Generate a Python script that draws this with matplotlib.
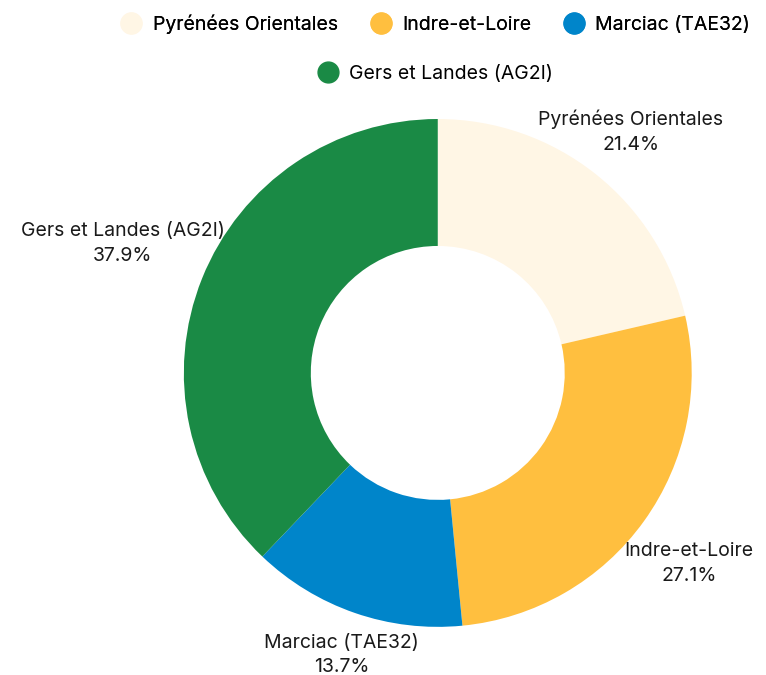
import matplotlib.pyplot as plt
from matplotlib.lines import Line2D

# Données
regions = ["Pyrénées Orientales", "Indre-et-Loire", "Marciac (TAE32)", "Gers et Landes (AG2I)"]
parts = [21.4, 27.1, 13.7, 37.9]
couleurs = ["#FFF6E5", "#FFBF3F", "#0085CA", "#1A8A45"]

# position des étiquettes (unités du rayon)
pos_etiquettes = [(0.76, 0.95), (0.99, -0.75), (-0.38, -1.11), (-1.24, 0.51)]

plt.rcParams['font.family'] = ['Inter', 'DejaVu Sans']

fig = plt.figure(figsize=(7.66, 6.75), dpi=100)
ax = fig.add_axes([0.240, 0.071, 0.663, 0.753])

etiquettes = [f"{r}\n{p}%" for r, p in zip(regions, parts)]
wedges, textes = ax.pie(parts, colors=couleurs, labels=etiquettes, startangle=90,
                        counterclock=False,
                        wedgeprops=dict(width=0.5, linewidth=0),
                        textprops=dict(fontsize=14, color="#1a1a1a"))
for t, p in zip(textes, pos_etiquettes):
    t.set_position(p)
    t.set_horizontalalignment("center")
    t.set_verticalalignment("center")
    t.set_linespacing(1.45)
    t.set_clip_on(False)
ax.set_aspect("equal")
ax.set_xlim(-1, 1)
ax.set_ylim(-1, 1)

# Légende en deux lignes
poignees = [Line2D([], [], marker="o", linestyle="", markersize=15,
                   markerfacecolor=c, markeredgecolor=c) for c in couleurs]
leg1 = fig.legend(poignees[:3], regions[:3], loc="center", bbox_to_anchor=(0.569, 0.964),
                  ncol=3, frameon=False, fontsize=14, handlelength=1.0,
                  handletextpad=0.6, columnspacing=1.7)
fig.add_artist(leg1)
fig.legend(poignees[3:], regions[3:], loc="center", bbox_to_anchor=(0.569, 0.891),
           frameon=False, fontsize=14, handlelength=1.0, handletextpad=0.6)

fig.savefig("out.png", dpi=100)
